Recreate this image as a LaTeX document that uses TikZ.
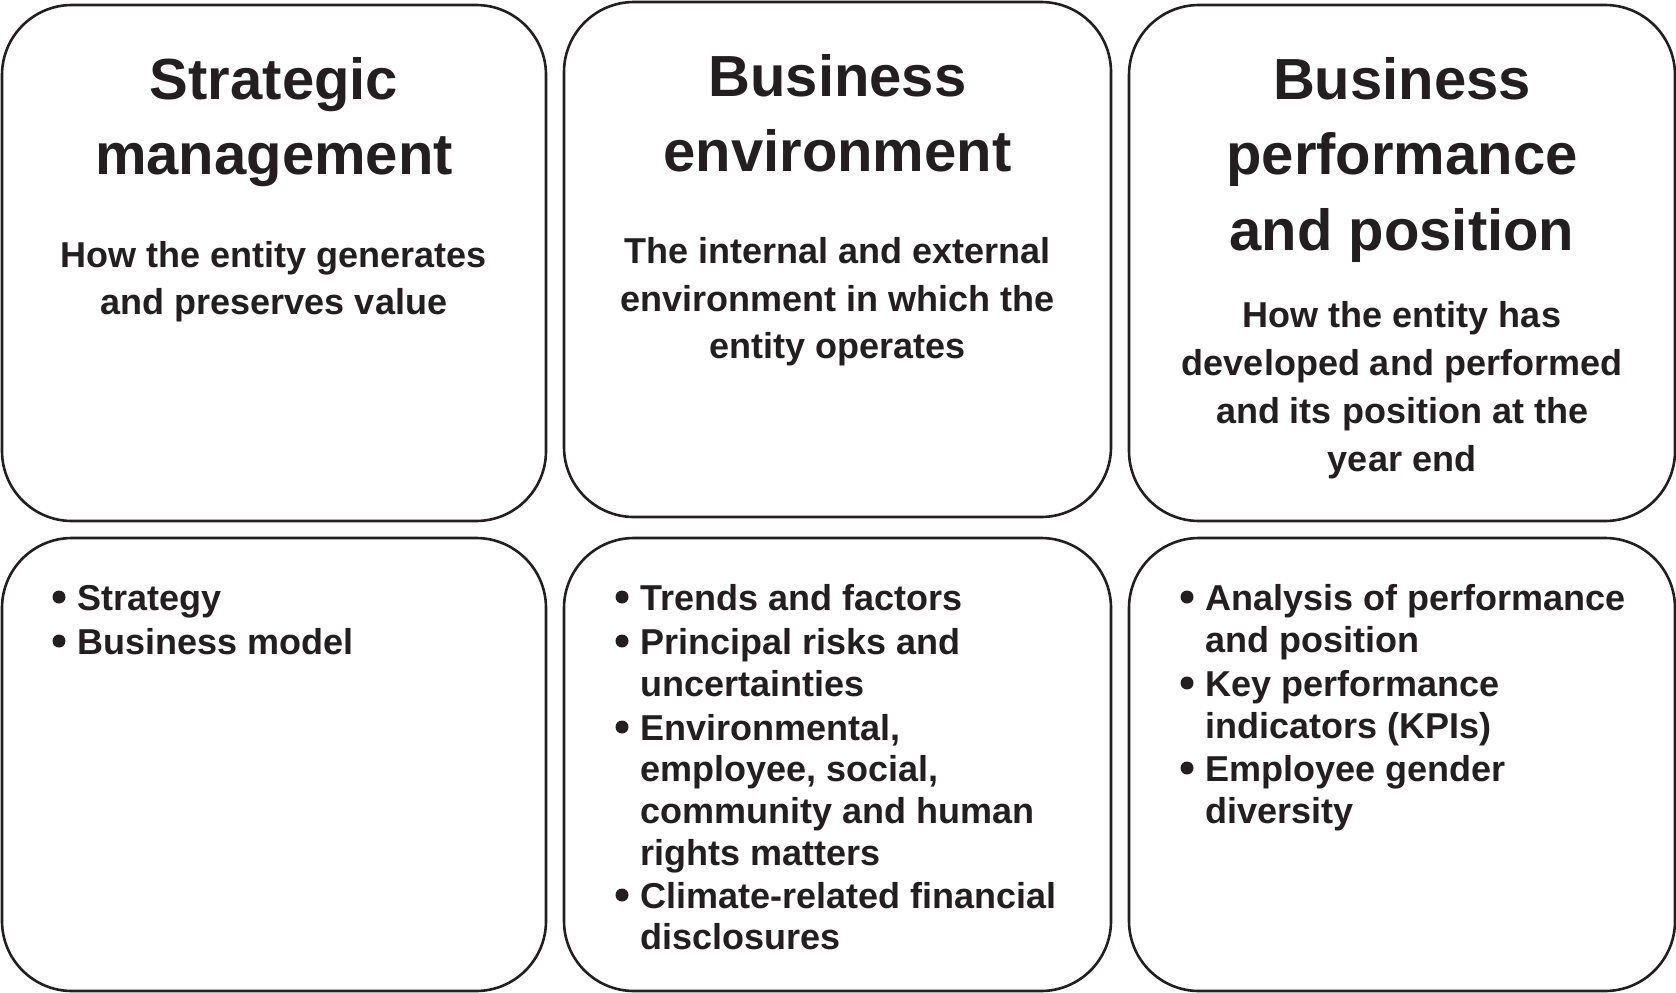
\documentclass[tikz,border=0pt]{standalone}
\usepackage{fontspec}
\setmainfont{Liberation Sans}
\definecolor{ink}{HTML}{231F20}
\begin{document}
\begin{tikzpicture}[x=1pt,y=-1pt,
  panel/.style={draw=ink, line width=2.6pt, rounded corners=70pt, inner sep=0pt},
  ttl/.style={font=\fontsize{58}{75}\selectfont\bfseries, text=ink, inner sep=0pt, anchor=base},
  sub/.style={font=\fontsize{36}{48}\selectfont\bfseries, text=ink, inner sep=0pt, anchor=base},
  itm/.style={font=\fontsize{36}{42}\selectfont\bfseries, text=ink, inner sep=0pt, anchor=base west},
  dot/.style={circle, fill=ink, inner sep=0pt, minimum size=13pt}]
\useasboundingbox (0,0) rectangle (1676,993);
% panels
\node[panel, minimum width=544pt, minimum height=516pt] (p1) at (274,263) {};
\node[panel, minimum width=547pt, minimum height=515pt] (p2) at (837.5,259.5) {};
\node[panel, minimum width=546pt, minimum height=516pt] (p3) at (1402,263) {};
\node[panel, minimum width=544pt, minimum height=453pt] (q1) at (274,764.5) {};
\node[panel, minimum width=547pt, minimum height=453pt] (q2) at (837.5,764.5) {};
\node[panel, minimum width=546pt, minimum height=453pt] (q3) at (1402,764.5) {};
% column 1 top
\node[ttl] (t11) at (274,99) {Strategic};
\node[ttl] (t12) at (274,174) {management};
\node[sub] (s11) at (274,267) {How the entity generates};
\node[sub] (s12) at (274,314) {and preserves value};
% column 2 top
\node[ttl] (t21) at (837.5,96) {Business};
\node[ttl] (t22) at (837.5,171) {environment};
\node[sub] (s21) at (837.5,263) {The internal and external};
\node[sub] (s22) at (837.5,311) {environment in which the};
\node[sub] (s23) at (837.5,358) {entity operates};
% column 3 top
\node[ttl] (t31) at (1402,99) {Business};
\node[ttl] (t32) at (1402,174) {performance};
\node[ttl] (t33) at (1402,250) {and position};
\node[sub] (s31) at (1402,327) {How the entity has};
\node[sub] (s32) at (1402,375) {developed and performed};
\node[sub] (s33) at (1402,423) {and its position at the};
\node[sub] (s34) at (1402,471) {year end};
% column 1 bullets
\node[dot] (d11) at (59,597) {};
\node[itm] (i11) at (77,610) {Strategy};
\node[dot] (d12) at (59,641) {};
\node[itm] (i12) at (77,654) {Business model};
% column 2 bullets
\node[dot] (d21) at (622,597) {};
\node[itm] (i21) at (640,610) {Trends and factors};
\node[dot] (d22) at (622,641) {};
\node[itm] (i22) at (640,654) {Principal risks and};
\node[itm] (i23) at (640,696) {uncertainties};
\node[dot] (d23) at (622,727) {};
\node[itm] (i24) at (640,740) {Environmental,};
\node[itm] (i25) at (640,781) {employee, social,};
\node[itm] (i26) at (640,823) {community and human};
\node[itm] (i27) at (640,865) {rights matters};
\node[dot] (d24) at (622,895) {};
\node[itm] (i28) at (640,908) {Climate-related financial};
\node[itm] (i29) at (640,949) {disclosures};
% column 3 bullets
\node[dot] (d31) at (1187,597) {};
\node[itm] (i31) at (1205,610) {Analysis of performance};
\node[itm] (i32) at (1205,652) {and position};
\node[dot] (d32) at (1187,683) {};
\node[itm] (i33) at (1205,696) {Key performance};
\node[itm] (i34) at (1205,738) {indicators (KPIs)};
\node[dot] (d33) at (1187,768) {};
\node[itm] (i35) at (1205,781) {Employee gender};
\node[itm] (i36) at (1205,823) {diversity};
\end{tikzpicture}
\end{document}
